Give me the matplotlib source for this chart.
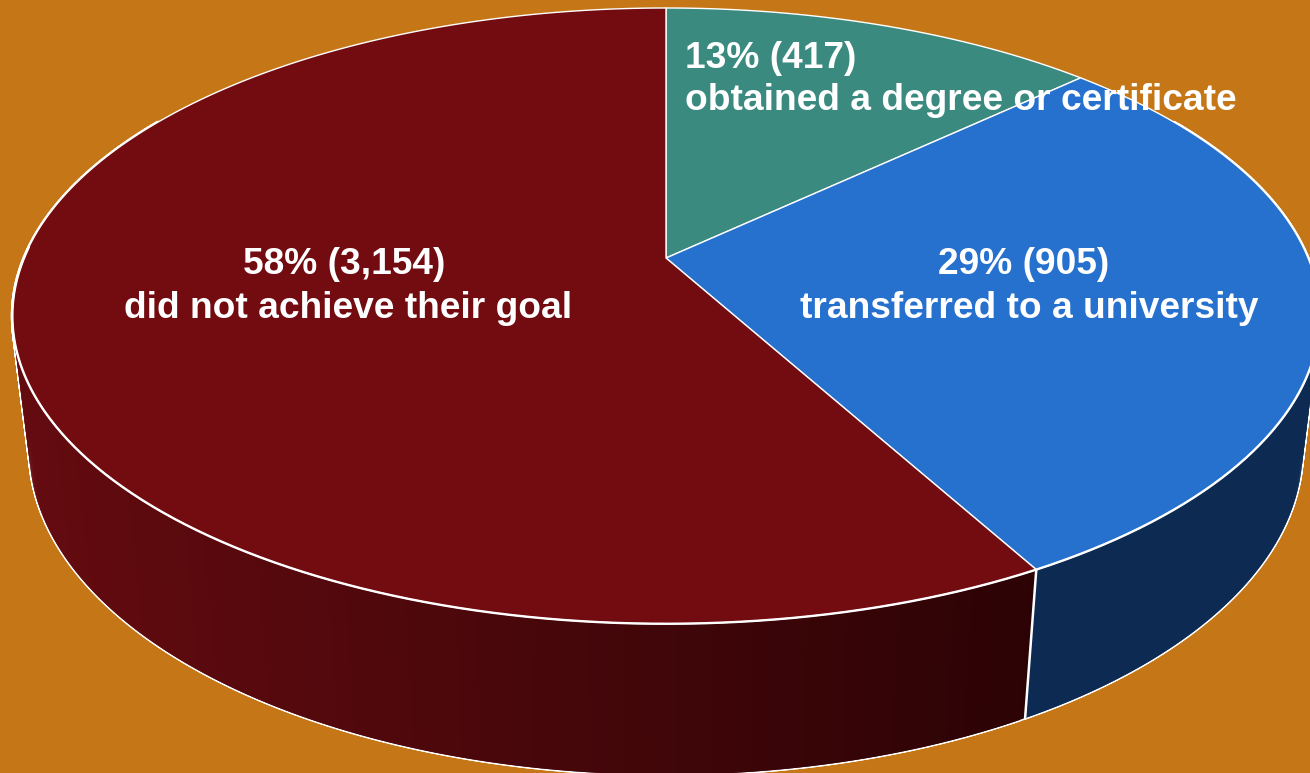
import matplotlib
matplotlib.use("Agg")
import matplotlib.pyplot as plt
import numpy as np
from matplotlib.collections import PolyCollection
from matplotlib.colors import to_rgb

plt.rcParams['font.family'] = ['Liberation Sans', 'DejaVu Sans']

# slices, clockwise from 12 o'clock
shares = [13, 29, 58]
counts = ["417", "905", "3,154"]
captions = ["obtained a degree or certificate", "transferred to a university", "did not achieve their goal"]

top_colors = ["#3B8A80", "#2670CE", "#720C11"]
bg_color = "#C57718"
side_blue = "#0D2B52"
side_red_left = "#640B10"
side_red_right = "#2C0305"

# projection of the tilted disc into pixel coords
CX, CY = 666, 258
Q, P, G = 642.0, -248.5, 0.188
R, D = 142.7, 0.026


def project(theta, z=0.0):
    u, v = np.sin(theta), np.cos(theta)
    w = 1 + G * v + D * z
    return CX + Q * u / w, (CY + P * v + R * z) / w


fig = plt.figure(figsize=(13.1, 7.73), dpi=100, facecolor=bg_color)
ax = fig.add_axes([0, 0, 1, 1])
ax.set_xlim(0, 1310)
ax.set_ylim(773, 0)
ax.axis("off")

edges = np.radians(np.cumsum([0] + shares) * 3.6)

# side wall, only the part facing us matters as the top covers the rest
# blue and red are split at the slice edge so no strip straddles the seam
th = np.r_[np.linspace(np.radians(60), edges[2], 150), np.linspace(edges[2], np.radians(300), 300)[1:]]
xt, yt = project(th)
xb, yb = project(th, 1.0)

left_rgb = np.array(to_rgb(side_red_left))
right_rgb = np.array(to_rgb(side_red_right))

blue_quads, red_quads, red_colors = [], [], []
for i in range(len(th) - 1):
    if th[i] < edges[2]:
        # overlap the neighbour so no seams show through
        j = min(i + 2, 149)
        blue_quads.append([(xt[i], yt[i]), (xt[j], yt[j]), (xb[j], yb[j]), (xb[i], yb[i])])
    else:
        j = min(i + 2, len(th) - 1)
        red_quads.append([(xt[i], yt[i]), (xt[j], yt[j]), (xb[j], yb[j]), (xb[i], yb[i])])
        f = np.clip((xb[i] - 30) / (1030 - 30), 0, 1)
        red_colors.append(tuple(left_rgb + (right_rgb - left_rgb) * f))

# white halo first, so that only the outer rim stays visible
ax.add_collection(PolyCollection(blue_quads + red_quads, facecolors="white", edgecolors="white",
                                 linewidths=2.2, zorder=1))
ax.add_collection(PolyCollection(blue_quads, facecolors=side_blue, edgecolors="none", zorder=2))
ax.add_collection(PolyCollection(red_quads, facecolors=red_colors, edgecolors="none", zorder=2))

# seam between the red and blue walls
sx = [project(edges[2])[0], project(edges[2], 1.0)[0]]
sy = [project(edges[2])[1], project(edges[2], 1.0)[1]]
ax.plot(sx, sy, color="white", lw=1.8, zorder=3)

# top face
for i in range(3):
    t = np.linspace(edges[i], edges[i + 1], 300)
    x, y = project(t)
    ax.fill(np.r_[CX, x], np.r_[CY, y], facecolor=top_colors[i], edgecolor="white", lw=1.0,
            joinstyle="round", zorder=4)

# the front rim of the top is drawn heavier
t = np.radians(np.linspace(100, 272, 400))
x, y = project(t)
ax.plot(x, y, color="white", lw=1.7, zorder=4.5)

# labels
fs = 26.7
ax.text(685, 68, f"{shares[0]}% ({counts[0]})", color="white", fontsize=fs, fontweight="bold",
        ha="left", va="baseline", zorder=5)
ax.text(685, 110, captions[0], color="white", fontsize=fs, fontweight="bold",
        ha="left", va="baseline", zorder=5)
ax.text(1024, 274, f"{shares[1]}% ({counts[1]})", color="white", fontsize=fs, fontweight="bold",
        ha="center", va="baseline", zorder=5)
ax.text(1029, 318, captions[1], color="white", fontsize=fs, fontweight="bold",
        ha="center", va="baseline", zorder=5)
ax.text(344, 274, f"{shares[2]}% ({counts[2]})", color="white", fontsize=fs, fontweight="bold",
        ha="center", va="baseline", zorder=5)
ax.text(348, 318, captions[2], color="white", fontsize=fs, fontweight="bold",
        ha="center", va="baseline", zorder=5)

fig.savefig("out.png", dpi=100, facecolor=bg_color)
